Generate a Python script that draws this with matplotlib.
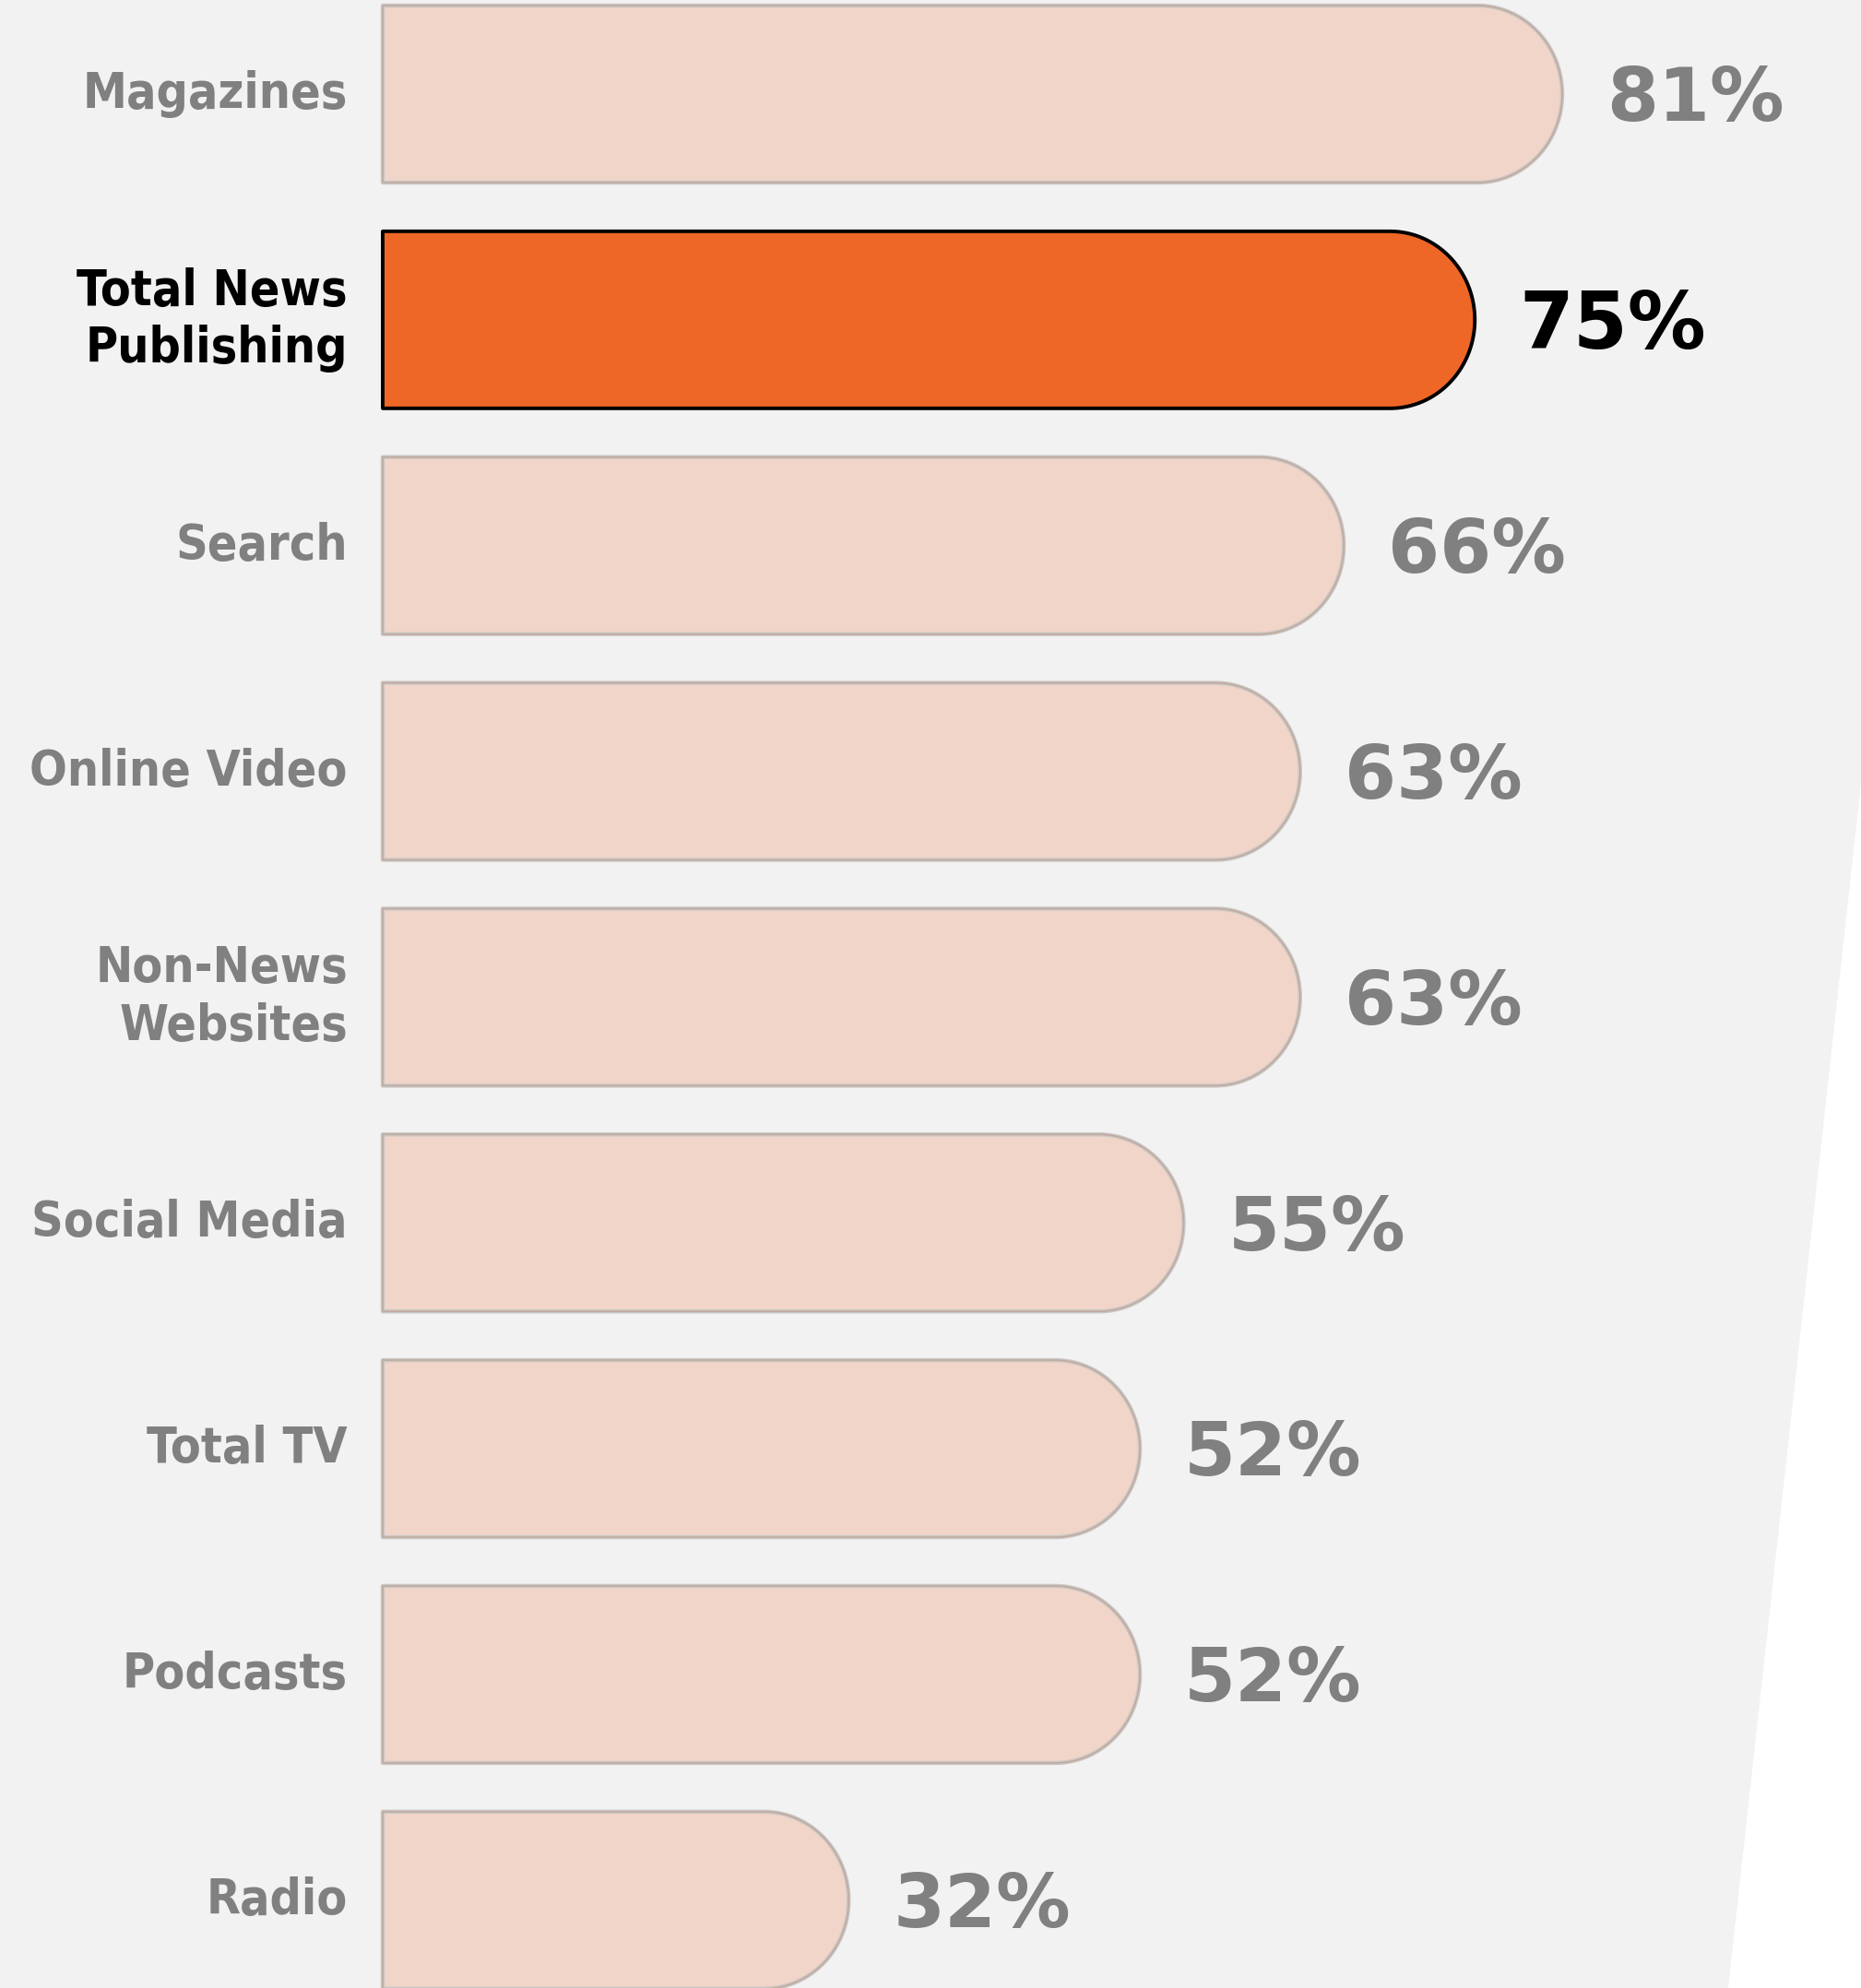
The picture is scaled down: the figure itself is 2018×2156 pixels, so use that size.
import numpy as np
import matplotlib
matplotlib.use('Agg')
from matplotlib import pyplot as plt
from matplotlib.path import Path
from matplotlib.patches import PathPatch, Polygon

categories = ['Magazines', 'Total News\nPublishing', 'Search', 'Online Video',
              'Non-News\nWebsites', 'Social Media', 'Total TV', 'Podcasts', 'Radio']
values = [81, 75, 66, 63, 63, 55, 52, 52, 32]
highlight = 'Total News\nPublishing'

# canvas layout, in pixels
W, H = 2018, 2156
px_per_pct = 15.79
x0_px = 415
row_px = 244.85
first_row_px = 102
bar_h = 192 / row_px
cap_px = 92

BG = '#F2F2F2'
LIGHT = '#F1D5C8'
ORANGE = '#EE6726'
GREY_TXT = '#808080'


def rounded_bar(y, length, height, rx):
    # flat left edge, elliptical cap on the right end
    rx = min(rx, length)
    t = np.linspace(-np.pi / 2, np.pi / 2, 80)
    cx = length - rx
    xs = np.concatenate([[0], cx + rx * np.cos(t), [0, 0]])
    ys = np.concatenate([[y - height / 2], y + height / 2 * np.sin(t),
                         [y + height / 2, y - height / 2]])
    codes = [Path.MOVETO] + [Path.LINETO] * (len(xs) - 2) + [Path.CLOSEPOLY]
    return Path(np.column_stack([xs, ys]), codes)


fig = plt.figure(figsize=(W / 100, H / 100), dpi=100)
fig.set_facecolor(BG)

# white wedge in the lower right corner
wedge = Polygon([(1.0, 1 - 850 / H), (1874 / W, 0.0), (1.0, 0.0)],
                closed=True, transform=fig.transFigure,
                facecolor='white', edgecolor='none', zorder=-1)
fig.patches.append(wedge)

ax = fig.add_axes([0, 0, 1, 1])
ax.set_xlim(-x0_px / px_per_pct, (W - x0_px) / px_per_pct)
ax.set_ylim((H - first_row_px) / row_px, -first_row_px / row_px)
ax.axis('off')

rx = cap_px / px_per_pct
for i, (cat, val) in enumerate(zip(categories, values)):
    path = rounded_bar(i, val, bar_h, rx)
    if cat == highlight:
        ax.add_patch(PathPatch(path, facecolor=ORANGE, edgecolor='black',
                               lw=2.8, joinstyle='round'))
        txt_col = 'black'
        pct_size = 61
    else:
        ax.add_patch(PathPatch(path, facecolor=LIGHT, edgecolor='#C9C7C6',
                               lw=3.2, joinstyle='round'))
        ax.add_patch(PathPatch(path, facecolor='none', edgecolor='#C2A89B',
                               lw=1.1, joinstyle='round'))
        txt_col = GREY_TXT
        pct_size = 58

    ax.text(-38 / px_per_pct, i, cat, ha='right', va='center',
            color=txt_col, fontsize=38.5, fontweight='bold',
            fontfamily='DejaVu Sans', fontstretch='condensed',
            linespacing=1.25)
    ax.text(val + 48 / px_per_pct, i + 0.03, f'{val}%', ha='left', va='center',
            color=txt_col, fontsize=pct_size, fontweight='bold',
            fontfamily='DejaVu Sans')

fig.savefig('out.png', dpi=100, facecolor=fig.get_facecolor())
